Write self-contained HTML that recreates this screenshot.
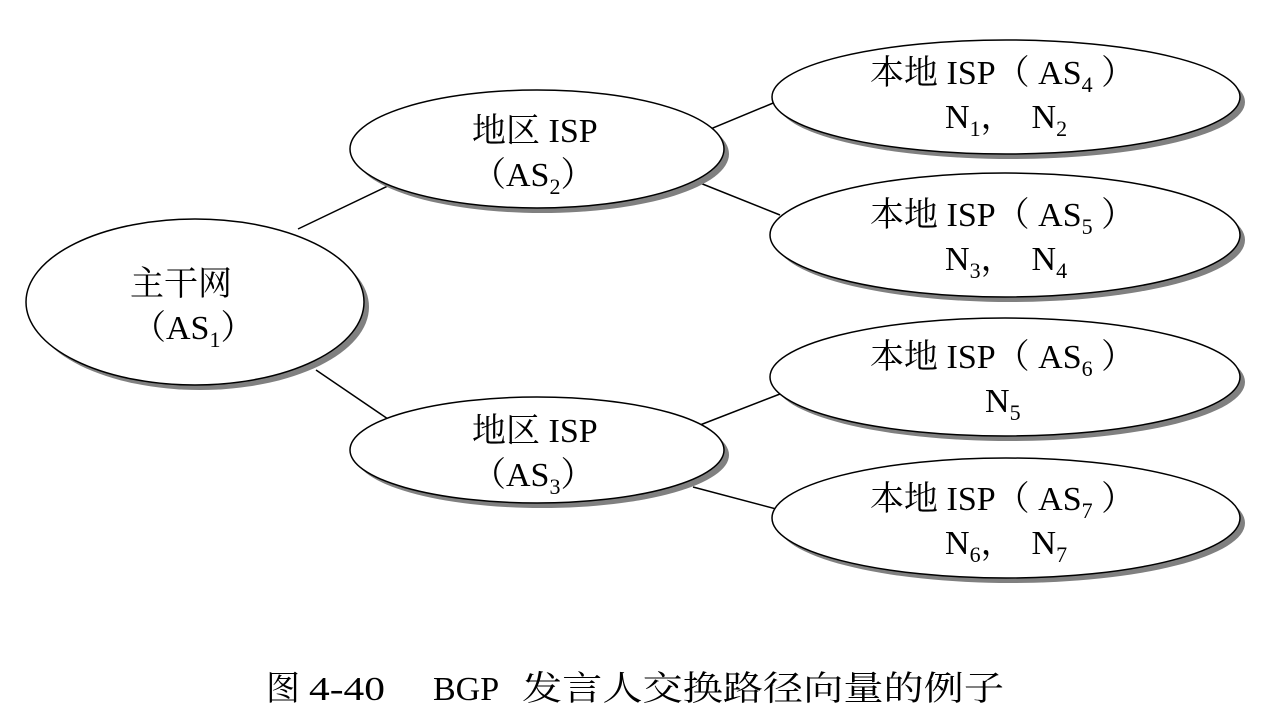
<!DOCTYPE html>
<html><head><meta charset="utf-8"><style>
body{margin:0;background:#fff;}
text{font-family:"Liberation Serif","Noto Serif CJK SC",serif;font-size:34px;fill:#000;}
</style></head><body>
<svg width="1270" height="720" xmlns="http://www.w3.org/2000/svg">
<g stroke="#000" stroke-width="1.5">
<line x1="298" y1="229" x2="392" y2="184"/>
<line x1="316" y1="370" x2="388" y2="419"/>
<line x1="708" y1="130" x2="778" y2="101"/>
<line x1="700" y1="183" x2="780" y2="215"/>
<line x1="700" y1="425" x2="780" y2="394"/>
<line x1="693" y1="487" x2="780" y2="510"/>
</g>
<g fill="#808080">
<ellipse cx="200" cy="307" rx="169" ry="83"/>
<ellipse cx="542" cy="154" rx="187" ry="59"/>
<ellipse cx="542" cy="455" rx="187" ry="53"/>
<ellipse cx="1011" cy="102" rx="234" ry="57"/>
<ellipse cx="1010" cy="240" rx="235" ry="62"/>
<ellipse cx="1010" cy="382" rx="235" ry="59"/>
<ellipse cx="1011" cy="523" rx="234" ry="60"/>
</g>
<g fill="#fff" stroke="#000" stroke-width="1.5">
<ellipse cx="195" cy="302" rx="169" ry="83"/>
<ellipse cx="537" cy="149" rx="187" ry="59"/>
<ellipse cx="537" cy="450" rx="187" ry="53"/>
<ellipse cx="1006" cy="97" rx="234" ry="57"/>
<ellipse cx="1005" cy="235" rx="235" ry="62"/>
<ellipse cx="1005" cy="377" rx="235" ry="59"/>
<ellipse cx="1006" cy="518" rx="234" ry="60"/>
</g>
<text x="130" y="295">主干网</text>
<text x="132" y="339">（AS<tspan font-size="22" dy="8">1</tspan><tspan dy="-8">）</tspan></text>
<text x="472" y="142">地区 ISP</text>
<text x="472" y="186">（AS<tspan font-size="22" dy="8">2</tspan><tspan dy="-8">）</tspan></text>
<text x="472" y="442">地区 ISP</text>
<text x="472" y="486">（AS<tspan font-size="22" dy="8">3</tspan><tspan dy="-8">）</tspan></text>
<text x="870" y="84">本地 ISP（ AS<tspan font-size="22" dy="8">4</tspan><tspan dy="-8"> ）</tspan></text>
<text x="945" y="128" xml:space="preserve">N<tspan font-size="22" dy="8">1</tspan><tspan dy="-8">，  N</tspan><tspan font-size="22" dy="8">2</tspan></text>
<text x="870" y="226">本地 ISP（ AS<tspan font-size="22" dy="8">5</tspan><tspan dy="-8"> ）</tspan></text>
<text x="945" y="270" xml:space="preserve">N<tspan font-size="22" dy="8">3</tspan><tspan dy="-8">，  N</tspan><tspan font-size="22" dy="8">4</tspan></text>
<text x="870" y="368">本地 ISP（ AS<tspan font-size="22" dy="8">6</tspan><tspan dy="-8"> ）</tspan></text>
<text x="985" y="412">N<tspan font-size="22" dy="8">5</tspan></text>
<text x="870" y="510">本地 ISP（ AS<tspan font-size="22" dy="8">7</tspan><tspan dy="-8"> ）</tspan></text>
<text x="945" y="554" xml:space="preserve">N<tspan font-size="22" dy="8">6</tspan><tspan dy="-8">，  N</tspan><tspan font-size="22" dy="8">7</tspan></text>
<text y="700" font-size="44"><tspan x="266">图</tspan><tspan x="309" textLength="76" lengthAdjust="spacingAndGlyphs">4-40</tspan><tspan x="433">BGP</tspan><tspan x="522" textLength="482" lengthAdjust="spacingAndGlyphs">发言人交换路径向量的例子</tspan></text>
</svg>
</body></html>
